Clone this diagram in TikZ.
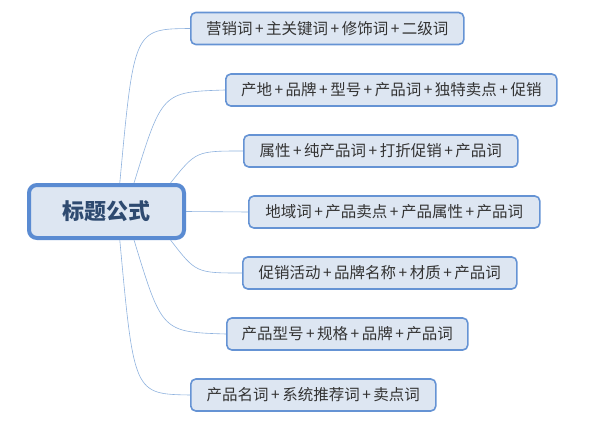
\documentclass[tikz,border=0pt]{standalone}
\usepackage{fontspec}
\setmainfont{Noto Sans CJK SC}
\usepackage{tikz}
\usetikzlibrary{arrows.meta}

\definecolor{boxfill}{HTML}{DDE6F2}
\definecolor{boxline}{HTML}{6593D4}
\definecolor{rootline}{HTML}{5A8BD2}
\definecolor{rootText}{HTML}{2E4A70}
\definecolor{wire}{HTML}{8FB2DE}
\definecolor{leafText}{HTML}{333333}

\newcommand{\pl}{\hspace{2.5pt}+\hspace{2.5pt}}

\tikzset{
  root/.style={draw=rootline, line width=4pt, fill=boxfill, rounded corners=8pt,
    minimum width=155pt, minimum height=53pt, text=rootText,
    font=\fontsize{22}{26}\selectfont\bfseries},
  leaf/.style={draw=boxline, line width=1.6pt, fill=boxfill, rounded corners=5pt,
    minimum height=32pt, anchor=west, text=leafText, inner xsep=6pt,
    font=\fontsize{15.5}{18}\selectfont},
  wire/.style={draw=wire, line width=0.6pt}
}

\begin{document}
\begin{tikzpicture}[x=1pt, y=-1pt]
    \useasboundingbox (0,0) rectangle (615,436);

    \node[root] (centre) at (106.5,211.5) {标题公式};

    \node[leaf, minimum width=273pt] (f1) at (190,28.5)  {营销词\pl 主关键词\pl 修饰词\pl 二级词};
    \node[leaf, minimum width=331pt] (f2) at (225,90)    {产地\pl 品牌\pl 型号\pl 产品词\pl 独特卖点\pl 促销};
    \node[leaf, minimum width=274pt] (f3) at (243,151)   {属性\pl 纯产品词\pl 打折促销\pl 产品词};
    \node[leaf, minimum width=291pt] (f4) at (248,212)   {地域词\pl 产品卖点\pl 产品属性\pl 产品词};
    \node[leaf, minimum width=274pt] (f5) at (242,273)   {促销活动\pl 品牌名称\pl 材质\pl 产品词};
    \node[leaf, minimum width=241pt] (f6) at (226,334)   {产品型号\pl 规格\pl 品牌\pl 产品词};
    \node[leaf, minimum width=245pt] (f7) at (190,395)   {产品名词\pl 系统推荐词\pl 卖点词};

    % branches from the title box
    \draw[wire] (centre.65)  .. controls (134,29)  .. (f1.west);
    \draw[wire] (centre.46)  .. controls (162,92)  .. (f2.west);
    \draw[wire] (centre.24)  .. controls (196,151) .. (f3.west);
    \draw[wire] (centre.east) -- (f4.west);
    \draw[wire] (centre.-24) .. controls (196,273) .. (f5.west);
    \draw[wire] (centre.-46) .. controls (162,332) .. (f6.west);
    \draw[wire] (centre.-65) .. controls (134,394) .. (f7.west);
\end{tikzpicture}
\end{document}
